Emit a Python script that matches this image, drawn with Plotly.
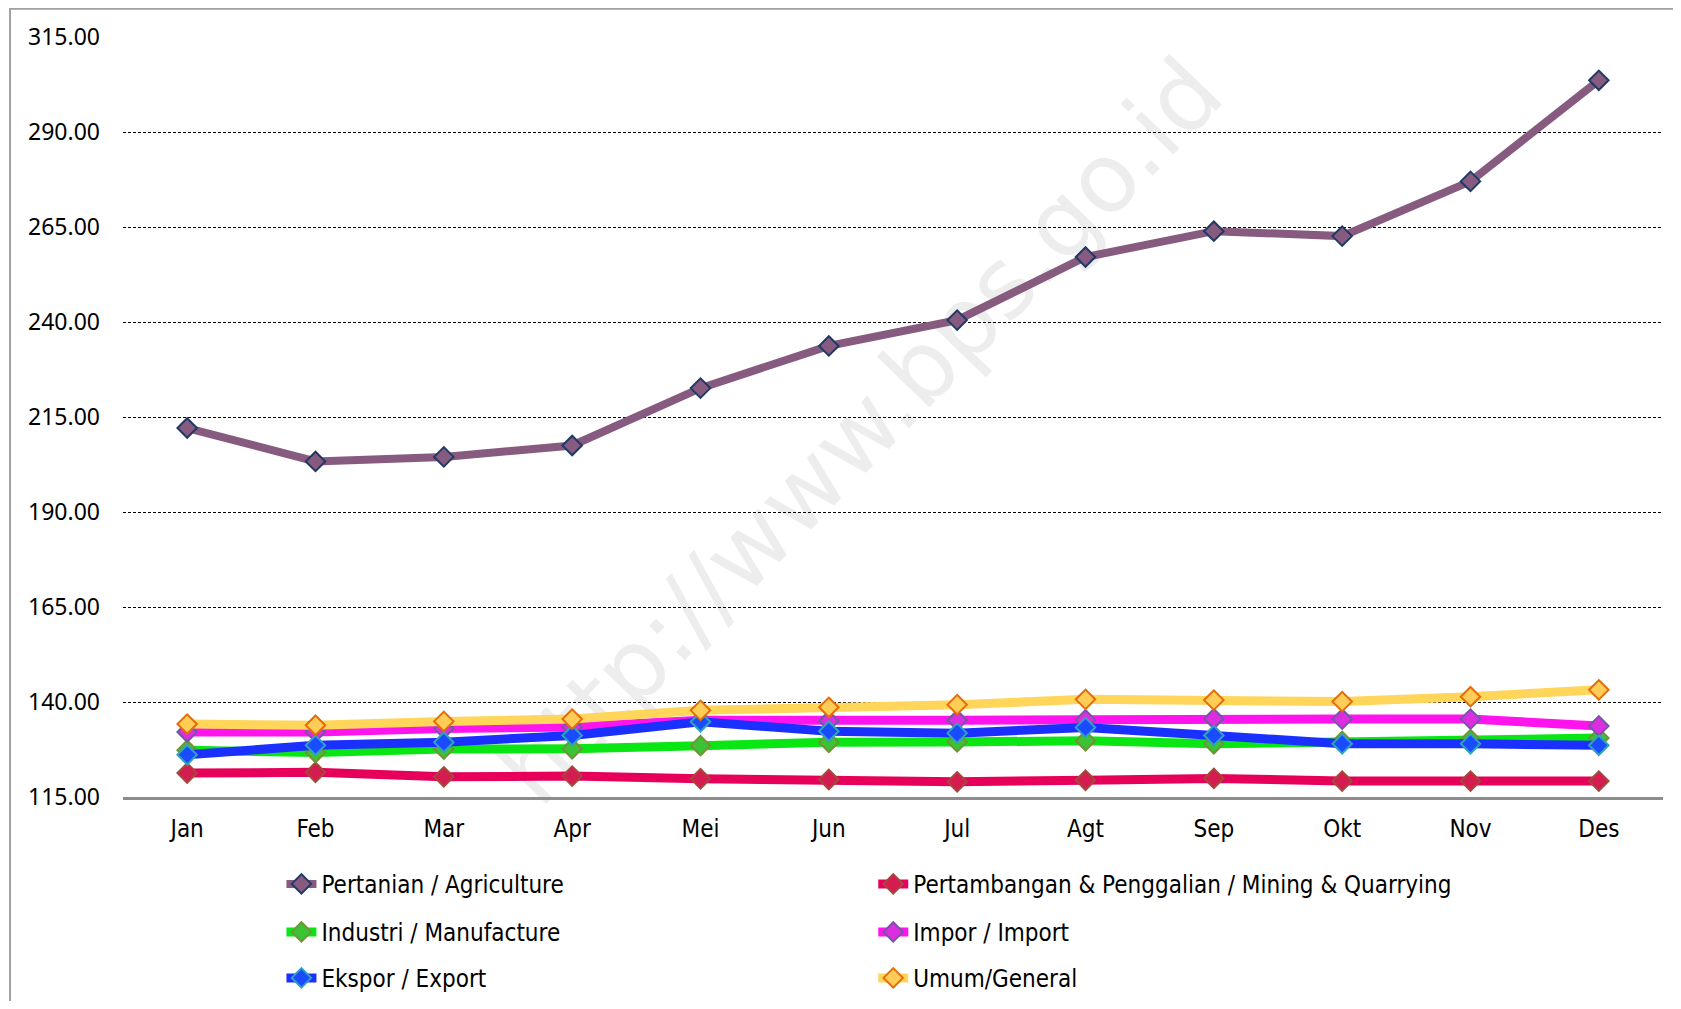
import plotly.graph_objects as go

months = ["Jan", "Feb", "Mar", "Apr", "Mei", "Jun", "Jul", "Agt", "Sep", "Okt", "Nov", "Des"]

agriculture = [212.1, 203.3, 204.5, 207.5, 222.6, 233.7, 240.5, 257.1, 263.9, 262.6, 277.0, 303.6]
mining = [121.3, 121.5, 120.3, 120.5, 119.8, 119.6, 119.0, 119.4, 119.9, 119.2, 119.2, 119.2]
manufacture = [127.3, 126.7, 127.6, 127.7, 128.5, 129.4, 129.5, 129.8, 129.0, 129.6, 130.1, 130.5]
imports = [132.1, 132.1, 133.0, 133.4, 135.2, 135.0, 135.2, 135.3, 135.6, 135.5, 135.5, 133.7]
exports = [126.1, 128.6, 129.4, 131.2, 134.8, 132.3, 131.8, 133.3, 131.2, 129.0, 129.0, 128.6]
general = [134.2, 133.9, 134.9, 135.5, 137.8, 138.6, 139.3, 140.7, 140.5, 140.1, 141.4, 143.2]

y_ticks = [115, 140, 165, 190, 215, 240, 265, 290, 315]

series = [
    ("Pertanian / Agriculture", agriculture, "#875a7f", "#875a7f", "#1f3a64", 8, "legend"),
    ("Pertambangan & Penggalian / Mining & Quarrying", mining, "#e6005a", "#d41c50", "#a5483c", 9, "legend2"),
    ("Industri / Manufacture", manufacture, "#0ae614", "#3cc234", "#6f9438", 9, "legend3"),
    ("Impor / Import", imports, "#ff14ee", "#dc2ee0", "#7456a6", 9, "legend4"),
    ("Ekspor / Export", exports, "#1a30ff", "#1a4cff", "#33a0bd", 9, "legend5"),
    ("Umum/General", general, "#ffd55a", "#ffcc55", "#e46c0a", 9, "legend6"),
]

fig = go.Figure()
for name, vals, lc, mc, mlc, lw, lg in series:
    fig.add_trace(go.Scatter(
        x=months, y=vals, name=name, mode="lines+markers",
        line=dict(color=lc, width=lw),
        marker=dict(symbol="diamond", size=15, color=mc, line=dict(color=mlc, width=2)),
        legend=lg,
    ))

# figure sits inside the page's 8px body margin
W, H = 1665, 993
L, T = 114.5, 28.7
plot_right, plot_bottom = 1655.0, 788.7
R, B = W - plot_right, H - plot_bottom
pw = W - L - R
ph = H - T - B

def px(x):
    return (x - L) / pw

def py(y):
    return (H - B - y) / ph

legend_font = dict(family="Liberation Sans Narrow, DejaVu Sans Condensed, sans-serif", size=24, color="#000")

def leg(xf, yf):
    return dict(orientation="h", x=px(xf), y=py(yf), xanchor="left", yanchor="middle",
                font=legend_font, bgcolor="rgba(0,0,0,0)", borderwidth=0, itemclick=False)

col1, col2 = 273, 865
row1, row2, row3 = 876, 924, 970

fig.update_layout(
    width=W, height=H,
    margin=dict(l=L, r=R, t=T, b=B, autoexpand=False),
    paper_bgcolor="white", plot_bgcolor="white",
    showlegend=True,
    legend=leg(col1, row1),
    legend2=leg(col2, row1),
    legend3=leg(col1, row2),
    legend4=leg(col2, row2),
    legend5=leg(col1, row3),
    legend6=leg(col2, row3),
    xaxis=dict(
        type="category", range=[-0.5, 11.5], showgrid=False,
        showline=True, linecolor="#8c8c8c", linewidth=3,
        ticks="", ticklabelstandoff=8,
        tickfont=dict(family="Liberation Sans Narrow, DejaVu Sans Condensed, sans-serif", size=24, color="#000"),
        zeroline=False, fixedrange=True,
    ),
    yaxis=dict(
        range=[115, 315], tickvals=y_ticks, tickformat=".2f",
        showgrid=True, gridcolor="#000", gridwidth=1, griddash="3px,2px",
        showline=False, zeroline=False, ticks="", ticklabelstandoff=22,
        tickfont=dict(family="Noto Sans, sans-serif", size=23, color="#000"),
        fixedrange=True,
    ),
    shapes=[
        dict(type="rect", xref="paper", yref="paper",
             x0=px(1.5), x1=1.2, y0=-0.5, y1=py(0.5),
             line=dict(color="#a0a0a0", width=2), fillcolor="rgba(0,0,0,0)", layer="above"),
        dict(type="rect", xref="paper", yref="paper",
             x0=px(847) - 0.01, x1=px(847) + 0.01, y0=py(418) - 0.01, y1=py(418) + 0.01,
             line=dict(width=0), fillcolor="rgba(0,0,0,0)", layer="below",
             label=dict(text="http://www.bps.go.id", textangle=-46,
                        font=dict(family="DejaVu Sans, sans-serif", size=96, color="#ededed"))),
    ],
)

fig.write_html("out.html")
